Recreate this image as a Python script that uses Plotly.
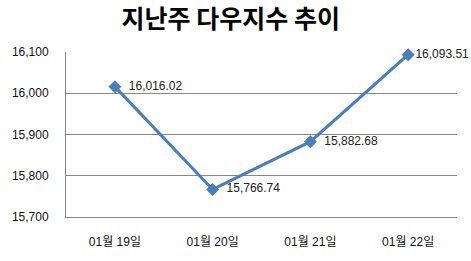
import plotly.graph_objects as go

categories = ["01월 19일", "01월 20일", "01월 21일", "01월 22일"]
values = [16016.02, 15766.74, 15882.68, 16093.51]
labels = ["\u00a0\u00a016,016.02", "\u00a0\u00a015,766.74", "\u00a0\u00a015,882.68", "16,093.51"]
y_ticks = [15700, 15800, 15900, 16000, 16100]

font_fam = "Liberation Sans, Noto Sans CJK KR, sans-serif"

fig = go.Figure()
fig.add_trace(go.Scatter(
    x=categories, y=values, mode="lines+markers+text",
    text=labels, textposition="middle right",
    textfont=dict(size=12, color="#222222", family=font_fam),
    line=dict(color="#4A7EBB", width=3),
    marker=dict(symbol="diamond", size=10, color="#4A7EBB"),
    cliponaxis=False, showlegend=False,
))

fig.update_layout(
    width=471, height=261,
    margin=dict(l=60, r=14, t=52, b=39),
    paper_bgcolor="white", plot_bgcolor="white",
    title=dict(text="<b>지난주 다우지수 추이</b>", x=0.49, xanchor="center",
               y=0.925, yanchor="middle",
               font=dict(size=25, color="black", family="Noto Sans CJK KR")),
    font=dict(family=font_fam, size=12, color="#111111"),
)
fig.update_xaxes(
    type="category", range=[-0.5, 3.5], showgrid=False, showline=True,
    linecolor="#868686", linewidth=1, ticks="", ticklabelstandoff=14,
    tickfont=dict(size=12, family=font_fam),
)
fig.update_yaxes(
    range=[15700, 16100], tickvals=y_ticks, tickformat=",",
    showgrid=True, gridcolor="#868686", gridwidth=1,
    showline=True, linecolor="#868686", linewidth=1,
    zeroline=False, ticks="", ticklabelstandoff=14,
    tickfont=dict(size=12, family=font_fam),
)

fig.write_html("out.html")
